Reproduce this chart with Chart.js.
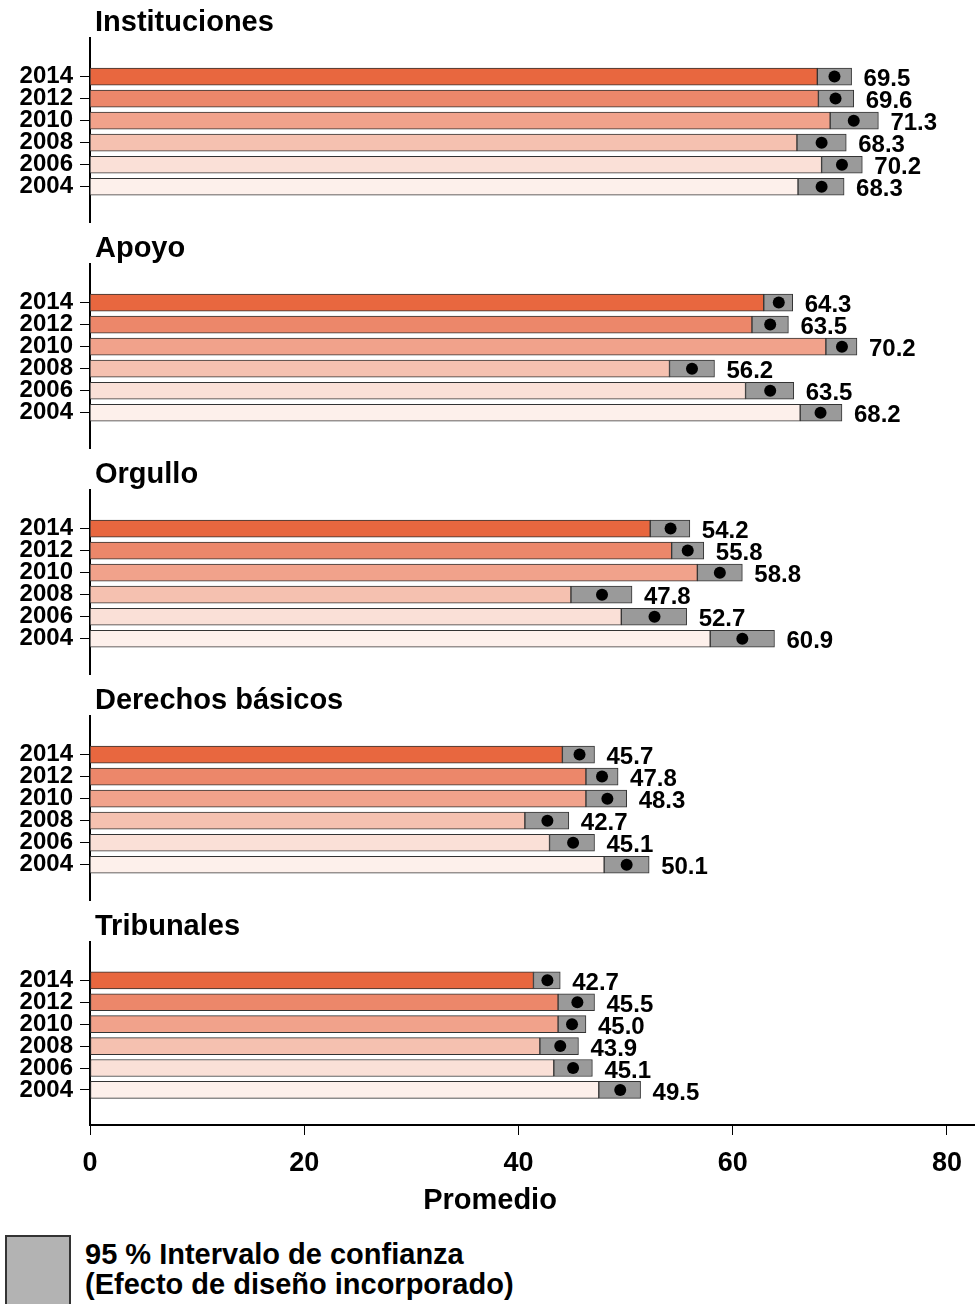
<!DOCTYPE html>
<html>
<head>
<meta charset="utf-8">
<script src="https://cdn.jsdelivr.net/npm/chart.js@4/dist/chart.umd.min.js"></script>
<style>
  html, body { margin: 0; padding: 0; background: #fff; }
  body { width: 975px; height: 1304px; position: relative; overflow: hidden; font-family: "Liberation Sans", Arial, sans-serif; }
  .panel { position: absolute; left: 0; width: 975px; }
  #legendBox { position: absolute; left: 5px; top: 1235px; width: 66px; height: 80px; background: #b3b3b3; border: 2px solid #333; box-sizing: border-box; }
  #legendText { position: absolute; left: 85px; top: 1239px; font-weight: bold; font-size: 29px; line-height: 30px; color: #000; white-space: nowrap; }
</style>
</head>
<body>
<div class="panel" id="p0" style="top:0px;height:226px"><canvas id="c0"></canvas></div>
<div class="panel" id="p1" style="top:226px;height:226px"><canvas id="c1"></canvas></div>
<div class="panel" id="p2" style="top:452px;height:226px"><canvas id="c2"></canvas></div>
<div class="panel" id="p3" style="top:678px;height:226px"><canvas id="c3"></canvas></div>
<div class="panel" id="p4" style="top:904px;height:316px"><canvas id="c4"></canvas></div>
<div id="legendBox"></div>
<div id="legendText">95 % Intervalo de confianza<br>(Efecto de diseño incorporado)</div>
<script>
// ---------------- DATA ----------------
const years = ['2014', '2012', '2010', '2008', '2006', '2004'];
const panelTitles = ['Instituciones', 'Apoyo', 'Orgullo', 'Derechos básicos', 'Tribunales'];
const xTicks = [0, 20, 40, 60, 80];
const xAxisTitle = 'Promedio';

const institucionesMean = [69.5, 69.6, 71.3, 68.3, 70.2, 68.3];
const institucionesLow  = [67.9, 68.0, 69.1, 66.0, 68.3, 66.1];
const institucionesHigh = [71.1, 71.3, 73.6, 70.6, 72.1, 70.4];

const apoyoMean = [64.3, 63.5, 70.2, 56.2, 63.5, 68.2];
const apoyoLow  = [62.9, 61.8, 68.7, 54.1, 61.2, 66.3];
const apoyoHigh = [65.6, 65.2, 71.6, 58.3, 65.7, 70.2];

const orgulloMean = [54.2, 55.8, 58.8, 47.8, 52.7, 60.9];
const orgulloLow  = [52.3, 54.3, 56.7, 44.9, 49.6, 57.9];
const orgulloHigh = [56.0, 57.3, 60.9, 50.6, 55.7, 63.9];

const derechosMean = [45.7, 47.8, 48.3, 42.7, 45.1, 50.1];
const derechosLow  = [44.1, 46.3, 46.3, 40.6, 42.9, 48.0];
const derechosHigh = [47.1, 49.3, 50.1, 44.7, 47.1, 52.2];

const tribunalesMean = [42.7, 45.5, 45.0, 43.9, 45.1, 49.5];
const tribunalesLow  = [41.4, 43.7, 43.7, 42.0, 43.3, 47.5];
const tribunalesHigh = [43.9, 47.1, 46.3, 45.6, 46.9, 51.4];

// ---------------- STYLE ----------------
const yearColors = ['#E8673F', '#EC876A', '#F1A28B', '#F5C1B0', '#FAE0D7', '#FDF0EB'];
const FONT = '"Liberation Sans", Arial, sans-serif';

const panels = [
  { title: panelTitles[0], mean: institucionesMean, low: institucionesLow, high: institucionesHigh },
  { title: panelTitles[1], mean: apoyoMean, low: apoyoLow, high: apoyoHigh },
  { title: panelTitles[2], mean: orgulloMean, low: orgulloLow, high: orgulloHigh },
  { title: panelTitles[3], mean: derechosMean, low: derechosLow, high: derechosHigh },
  { title: panelTitles[4], mean: tribunalesMean, low: tribunalesLow, high: tribunalesHigh }
];

function makeDecor(p, last) {
  return {
    id: 'panelDecor',
    afterDatasetsDraw(chart) {
      const ctx = chart.ctx, xs = chart.scales.x, ys = chart.scales.y;
      ctx.save();
      ctx.fillStyle = '#000';
      ctx.textAlign = 'left';
      ctx.textBaseline = 'middle';
      ctx.font = 'bold 24px ' + FONT;
      p.mean.forEach((m, i) => {
        ctx.fillText(m.toFixed(1), xs.getPixelForValue(p.high[i]) + 12, ys.getPixelForValue(i) + 3);
      });
      ctx.font = 'bold 29px ' + FONT;
      ctx.fillText(p.title, chart.chartArea.left + 5, 23);
      if (last) {
        ctx.textAlign = 'center';
        ctx.font = 'bold 29px ' + FONT;
        ctx.fillText(xAxisTitle, 490, chart.chartArea.bottom + 76);
      }
      ctx.restore();
    }
  };
}

panels.forEach((p, k) => {
  const last = k === panels.length - 1;
  const idx = years.map((y, i) => i);
  new Chart(document.getElementById('c' + k), {
    type: 'bar',
    data: {
      datasets: [
        {
          type: 'scatter',
          indexAxis: 'y',
          data: idx.map(i => ({ x: p.mean[i], y: i })),
          pointRadius: 6,
          pointHoverRadius: 6,
          pointBackgroundColor: '#000',
          pointBorderWidth: 0,
          order: 0
        },
        {
          data: idx.map(i => ({ x: [p.low[i], p.high[i]], y: i })),
          backgroundColor: '#9a9a9a',
          borderColor: '#333',
          borderWidth: 1,
          borderSkipped: false,
          barThickness: 17,
          grouped: false,
          order: 1
        },
        {
          data: idx.map(i => ({ x: [0, p.low[i]], y: i })),
          backgroundColor: yearColors,
          borderColor: '#333',
          borderWidth: 1,
          borderSkipped: false,
          barThickness: 17,
          grouped: false,
          order: 2
        }
      ]
    },
    options: {
      indexAxis: 'y',
      responsive: true,
      maintainAspectRatio: false,
      animation: false,
      events: [],
      layout: { autoPadding: false, padding: { top: 38, bottom: last ? 0 : 4, left: 0, right: 0 } },
      plugins: { legend: { display: false }, tooltip: { enabled: false }, title: { display: false } },
      scales: {
        x: {
          type: 'linear',
          display: last,
          offset: false,
          min: 0,
          max: 82.62,
          afterBuildTicks: s => { s.ticks = xTicks.map(v => ({ value: v })); },
          afterFit: s => { if (last) s.height = 95; s.paddingLeft = 0; s.paddingRight = 0; },
          grid: { display: true, drawOnChartArea: false, drawTicks: true, tickLength: 10, color: '#000', lineWidth: 1 },
          border: { display: true, color: '#000', width: 2 },
          ticks: { font: { family: FONT, size: 27, weight: 'bold' }, color: '#000', padding: 12, maxRotation: 0, autoSkip: false },
          title: { display: false }
        },
        y: {
          type: 'linear',
          reverse: true,
          offset: false,
          min: -1.75,
          max: 6.6,
          afterBuildTicks: s => { s.ticks = years.map((y, i) => ({ value: i })); },
          afterFit: s => { s.width = 90; s.paddingTop = 0; s.paddingBottom = 0; },
          grid: { display: true, drawOnChartArea: false, drawTicks: true, tickLength: 10, color: '#000', lineWidth: 1, offset: false },
          border: { display: true, color: '#000', width: 2 },
          ticks: { font: { family: FONT, size: 24, weight: 'bold' }, color: '#000', padding: 7, autoSkip: false, callback: v => years[v] }
        }
      }
    },
    plugins: [makeDecor(p, last)]
  });
});
</script>
</body>
</html>
